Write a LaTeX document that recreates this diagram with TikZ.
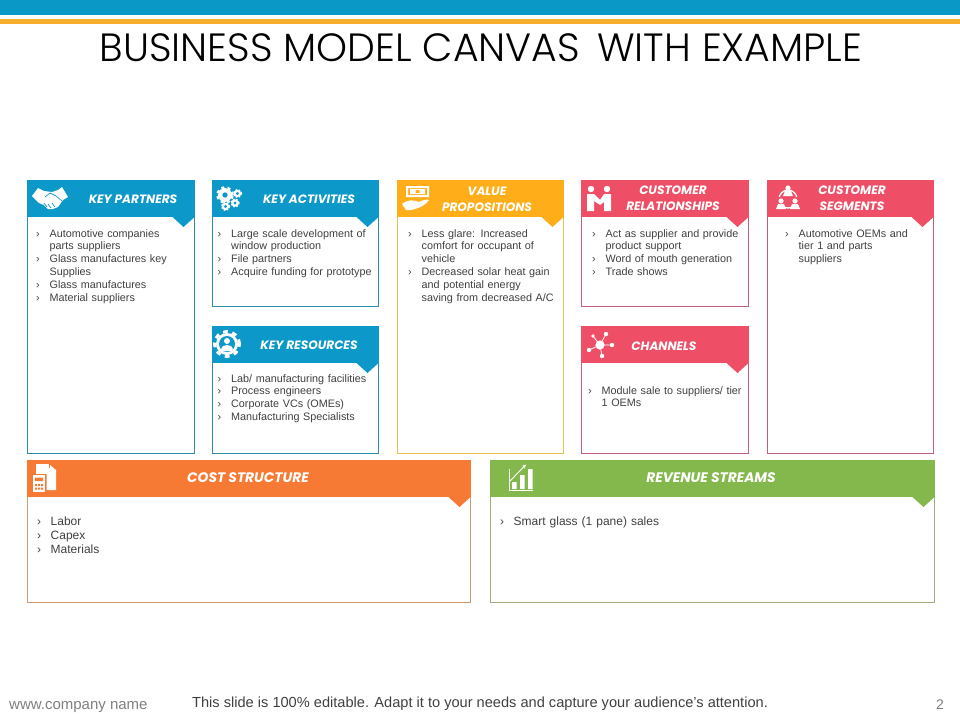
\documentclass[tikz,border=0pt]{standalone}
\usepackage{fontspec}
\setmainfont{Liberation Sans}
\newfontfamily\titlefont{Poppins Light}
\newfontfamily\headfont{Poppins}
\usetikzlibrary{arrows.meta}
\usetikzlibrary{calc}
\definecolor{barblue}{HTML}{0A98C6}
\definecolor{baryellow}{HTML}{F5AF2D}
\definecolor{hblue}{HTML}{0C98C8}
\definecolor{hyellow}{HTML}{FFAE1A}
\definecolor{hred}{HTML}{EE4F66}
\definecolor{horange}{HTML}{F67A33}
\definecolor{hgreen}{HTML}{84B84C}
\definecolor{eblue}{HTML}{2A8FA8}
\definecolor{eyellow}{HTML}{E8C24E}
\definecolor{ered}{HTML}{C2607C}
\definecolor{eorange}{HTML}{CF9A70}
\definecolor{egreen}{HTML}{9CAF7C}
\definecolor{bodytext}{HTML}{404040}
\tikzstyle{card}=[anchor=north west,fill=white,line width=0.9pt,inner sep=0pt,outer sep=0pt]
\tikzstyle{head}=[anchor=north west,inner sep=0pt,outer sep=0pt]
\tikzstyle{headtext}=[text=white,align=center,inner sep=0pt,font=\headfont\bfseries\itshape\fontsize{12.1}{16}\selectfont]
\tikzstyle{bigheadtext}=[headtext,font=\headfont\bfseries\itshape\fontsize{13.8}{16}\selectfont]
\tikzstyle{bullets}=[anchor=north west,inner sep=0pt,text width=165pt,align=left,text=bodytext,font=\fontsize{10.8}{12.85}\selectfont]
\tikzstyle{wide bullets}=[bullets,font=\fontsize{12}{14}\selectfont]
\tikzstyle{icon}=[fill=white,draw=none]
\newcommand{\itm}[1]{\hangindent=13.5pt\hangafter=1\noindent\makebox[13.5pt][l]{›}#1\par}
\newcommand{\notch}[2]{\fill[#2] ($(#1.south east)+(-22,0)$) -- ($(#1.south east)+(-11,10)$) -- (#1.south east) -- cycle;}
\newcommand{\gear}[3]{%
  \pgfmathsetmacro{\gr}{#3}
  \draw[white,line width={0.5*\gr}] (#1,#2) circle ({0.62*\gr pt});
  \draw[white,line width={0.3*\gr},dash pattern=on {0.39*\gr} off {0.39*\gr}] (#1,#2) circle ({0.95*\gr pt});}
\begin{document}
\begin{tikzpicture}[x=1pt,y=-1pt]
\useasboundingbox (0,0) rectangle (960,720);
% top bars
\fill[barblue] (0,0) rectangle (960,14.7);
\fill[baryellow] (0,18.8) rectangle (960,24);
\node [font=\titlefont\fontsize{39.4}{42}\selectfont,text=black,inner sep=0pt] (title) at (481,48) {BUSINESS MODEL CANVAS\, WITH EXAMPLE};

% key partners
\node [card,draw=eblue,minimum width=167.5,minimum height=273.5] (kpbox) at (27,180) {};
\node [head,fill=hblue,minimum width=167.5,minimum height=37] (kphead) at (27,180) {};
\notch{kphead}{hblue}
\node [headtext] (kptitle) at (133,199) {KEY PARTNERS};
\node [bullets] (kptext) at (36,229) {\itm{Automotive companies\newline parts suppliers}\itm{Glass manufactures key\newline Supplies}\itm{Glass manufactures}\itm{Material suppliers}};
\fill[icon] (32,196) -- (38,188) -- (44,191) -- (52,192) -- (58,190) -- (62,187) -- (68,197) -- (63,200) -- (58,207) -- (53,209) -- (48,209) -- (44,205) -- (39,203) -- cycle;
\draw[hblue,line width=0.7pt] (45,197) -- (50,193) -- (56,196) -- (62,201) (47,207) -- (44,203) (51,208) -- (48,204) (55,207) -- (52,203);

% key activities
\node [card,draw=eblue,minimum width=166.5,minimum height=126.5] (kabox) at (212,180) {};
\node [head,fill=hblue,minimum width=166.5,minimum height=37] (kahead) at (212,180) {};
\notch{kahead}{hblue}
\node [headtext] (katitle) at (309,199) {KEY ACTIVITIES};
\node [bullets] (katext) at (217.5,229) {\itm{Large scale development of\newline window production}\itm{File partners}\itm{Acquire funding for prototype}};
\gear{225}{195}{8}
\gear{237.5}{193.5}{4.2}
\gear{235}{203}{4.2}
\gear{225.5}{206.5}{4.2}

% key resources
\node [card,draw=eblue,minimum width=166.5,minimum height=127.5] (krbox) at (212,326) {};
\node [head,fill=hblue,minimum width=166.5,minimum height=37] (krhead) at (212,326) {};
\notch{krhead}{hblue}
\node [headtext] (krtitle) at (309,345) {KEY RESOURCES};
\node [bullets] (krtext) at (217.5,374) {\itm{Lab/ manufacturing facilities}\itm{Process engineers}\itm{Corporate VCs (OMEs)}\itm{Manufacturing Specialists}};
\fill[icon] (227,344) circle (11pt);
\draw[white,line width=3pt,dash pattern=on 4.7pt off 4.7pt] (227,344) circle (12.5pt);
\fill[hblue] (227,344) circle (8pt);
\fill[icon] (227,341) circle (3pt);
\fill[icon] (221,351) .. controls (221,346) and (224,345) .. (227,345) .. controls (230,345) and (233,346) .. (233,351) -- cycle;

% value propositions
\node [card,draw=eyellow,minimum width=166.5,minimum height=273.5] (vpbox) at (397,180) {};
\node [head,fill=hyellow,minimum width=166.5,minimum height=37] (vphead) at (397,180) {};
\notch{vphead}{hyellow}
\node [headtext] (vptitle) at (487,199) {VALUE\\PROPOSITIONS};
\node [bullets] (vptext) at (408,229) {\itm{Less glare: Increased\newline comfort for occupant of\newline vehicle}\itm{Decreased solar heat gain\newline and potential energy\newline saving from decreased A/C}};
\fill[icon,even odd rule] (406,186) rectangle (429,197) (408,188) rectangle (427,195);
\fill[icon,even odd rule] (410,189) rectangle (425,194) (415.5,190) rectangle (419.5,193);
\fill[icon] (402,204) .. controls (408,199) and (414,200) .. (419,202) .. controls (423,200) and (427,199) .. (429,200) .. controls (426,205) and (420,208) .. (411,210) -- (406,210) -- cycle;

% customer relationships
\node [card,draw=ered,minimum width=167.5,minimum height=126.5] (crbox) at (581,180) {};
\node [head,fill=hred,minimum width=167.5,minimum height=37] (crhead) at (581,180) {};
\notch{crhead}{hred}
\node [headtext] (crtitle) at (673,198) {CUSTOMER\\RELATIONSHIPS};
\node [bullets] (crtext) at (592,229) {\itm{Act as supplier and provide\newline product support}\itm{Word of mouth generation}\itm{Trade shows}};
\fill[icon] (591,189) circle (3.2pt) (607,189) circle (3.2pt);
\fill[icon] (587,194) -- (594,194) -- (600,200) -- (604,194) -- (611,194) -- (611,211) -- (604,211) -- (604,202) -- (600,205) -- (594,201) -- (594,211) -- (587,211) -- cycle;

% customer segments
\node [card,draw=ered,minimum width=166.5,minimum height=273.5] (csbox) at (767,180) {};
\node [head,fill=hred,minimum width=166.5,minimum height=37] (cshead) at (767,180) {};
\notch{cshead}{hred}
\node [headtext] (cstitle) at (852,198) {CUSTOMER\\SEGMENTS};
\node [bullets] (cstext) at (785,229) {\itm{Automotive OEMs and\newline tier 1 and parts\newline suppliers}};
\draw[white,line width=1.3pt] (788,199) circle (9pt);
\fill[hred] (776,197) rectangle (782,210) (794,197) rectangle (800,210);
\fill[icon] (788,188) circle (2.6pt) (781,201) circle (2.6pt) (795,201) circle (2.6pt);
\fill[icon] (783,196) -- (785,191) -- (791,191) -- (793,196) -- cycle;
\fill[icon] (776,209) -- (778,204) -- (784,204) -- (786,209) -- cycle;
\fill[icon] (790,209) -- (792,204) -- (798,204) -- (800,209) -- cycle;

% channels
\node [card,draw=ered,minimum width=167.5,minimum height=127.5] (chbox) at (581,326) {};
\node [head,fill=hred,minimum width=167.5,minimum height=37] (chhead) at (581,326) {};
\notch{chhead}{hred}
\node [headtext] (chtitle) at (664,346) {CHANNELS};
\node [bullets] (chtext) at (588,386) {\itm{Module sale to suppliers/ tier\newline 1 OEMs}};
\draw[white,line width=0.8pt] (606,334) -- (600,345) -- (593,336) (600,345) -- (612,345) (600,345) -- (589,350) (600,345) -- (602,356);
\fill[icon] (600,345) circle (4.6pt) (606,334) circle (2.2pt) (593,336) circle (1.8pt) (612,345) circle (2.2pt) (589,350) circle (2.2pt) (602,356) circle (2.2pt);

% cost structure
\node [card,draw=eorange,minimum width=443.5,minimum height=142.5] (cobox) at (27,460) {};
\node [head,fill=horange,minimum width=443.5,minimum height=37] (cohead) at (27,460) {};
\notch{cohead}{horange}
\node [bigheadtext] (cotitle) at (248,478) {COST STRUCTURE};
\node [wide bullets] (cotext) at (37,517) {\itm{Labor}\itm{Capex}\itm{Materials}};
\fill[icon] (36,464) rectangle (49,474);
\fill[icon] (47.5,468) -- (50,468) -- (50,465) -- (56,470) -- (56,490) -- (46.5,490) -- (46.5,474) -- (47.5,474) -- cycle;
\fill[icon] (33,475) rectangle (45,492);
\fill[horange] (35,477.5) rectangle (43,481) (35,484) rectangle (37,486) (38,484) rectangle (40,486) (41,484) rectangle (43,486) (35,487.5) rectangle (37,489.5) (38,487.5) rectangle (40,489.5) (41,487.5) rectangle (43,489.5);

% revenue streams
\node [card,draw=egreen,minimum width=444.5,minimum height=142.5] (rsbox) at (490,460) {};
\node [head,fill=hgreen,minimum width=444.5,minimum height=37] (rshead) at (490,460) {};
\notch{rshead}{hgreen}
\node [bigheadtext] (rstitle) at (711,478) {REVENUE STREAMS};
\node [wide bullets] (rstext) at (500,517) {\itm{Smart glass (1 pane) sales}};
\draw[white,line width=0.8pt] (509.5,469) -- (509.5,490) -- (533,490);
\fill[icon] (512,482) rectangle (516.5,489) (520,475) rectangle (524.5,489) (528,469) rectangle (532.5,489);
\draw[white,line width=0.9pt,-{Stealth[length=4pt,width=4pt]}] (510,481) -- (526,464.5);

% footer
\node [anchor=west,inner sep=0pt,text=black!50,font=\fontsize{15}{17}\selectfont] (site) at (9,707) {www.company name};
\node [anchor=west,inner sep=0pt,text=bodytext,font=\fontsize{14.6}{17}\selectfont] (note) at (192,704) {This slide is 100\% editable. Adapt it to your needs and capture your audience's attention.};
\node [inner sep=0pt,text=black!50,font=\fontsize{14}{16}\selectfont] (pageno) at (940,705) {2};
\end{tikzpicture}
\end{document}
